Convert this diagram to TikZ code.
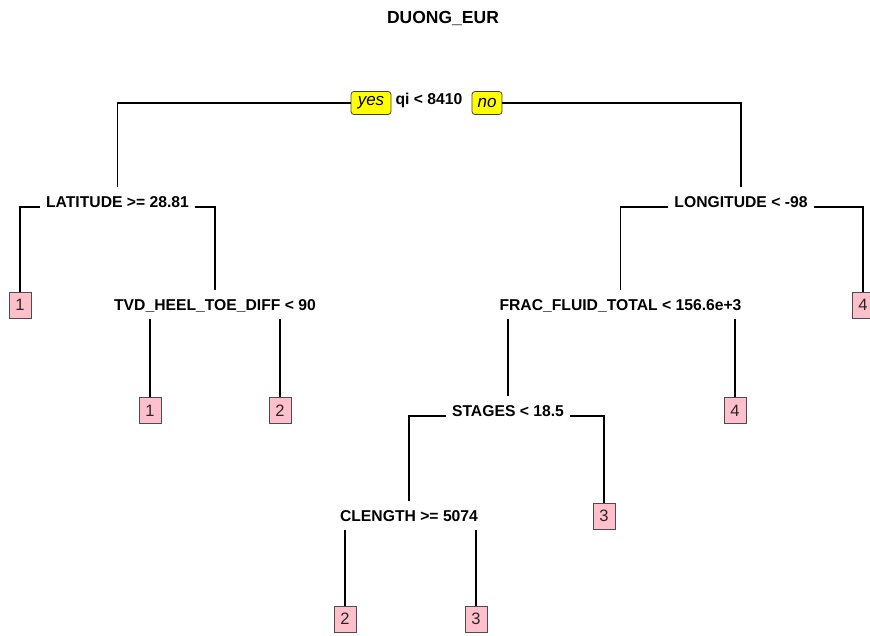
\documentclass[tikz,border=0pt]{standalone}
\usepackage{fontspec}
\setmainfont{Liberation Sans}
\definecolor{leafpink}{HTML}{FFC0CB}
\definecolor{lblyellow}{HTML}{FFFF00}
\begin{document}
\begin{tikzpicture}[x=1pt,y=-1pt,
  split/.style={font=\bfseries\fontsize{15.7}{18}\selectfont, inner xsep=6pt, inner ysep=9pt,
                text height=11pt, text depth=0pt, anchor=base},
  leaf/.style={draw=black!70, line width=0.8pt, fill=leafpink, minimum width=22pt, minimum height=26pt,
               inner sep=0pt, font=\fontsize{16.5}{18}\selectfont, text=black!85},
  lbl/.style={draw=black!75, line width=0.8pt, fill=lblyellow, rounded corners=3pt, minimum height=23pt,
              inner xsep=2pt, inner ysep=0pt, font=\itshape\fontsize{17}{18}\selectfont},
  edge/.style={line width=1.8pt, black}]
\useasboundingbox (0,0) rectangle (870,635);
\clip (0,0) rectangle (870,635);

\node[font=\bfseries\fontsize{17.5}{20}\selectfont] (title) at (443,18) {DUONG\_EUR};

% split nodes
\node[split] (root) at (429,104) {qi < 8410};
\node[lbl, minimum width=40pt] (yes) at (371,103) {yes};
\node[lbl, minimum width=30pt] (no) at (487,103) {no};
\node[split] (lat) at (117.5,207) {LATITUDE >= 28.81};
\node[split] (tvd) at (215,310) {TVD\_HEEL\_TOE\_DIFF < 90};
\node[split] (lon) at (741,207) {LONGITUDE < -98};
\node[split] (frac) at (620.5,310) {FRAC\_FLUID\_TOTAL < 156.6e+3};
\node[split] (stg) at (508,416) {STAGES < 18.5};
\node[split] (cln) at (409,521) {CLENGTH >= 5074};

% leaves
\node[leaf] (l1) at (20,305) {1};
\node[leaf] (l2) at (150,410.5) {1};
\node[leaf] (l3) at (280,410.5) {2};
\node[leaf] (l4) at (863,305) {4};
\node[leaf] (l5) at (735,410.5) {4};
\node[leaf] (l6) at (604,516) {3};
\node[leaf] (l7) at (345,619) {2};
\node[leaf] (l8) at (476,619) {3};

% edges
\draw[edge] (yes.west) -| (lat.north);
\draw[edge] (no.east) -| (lon.north);
\draw[edge] (lat.base west) -| (l1.north);
\draw[edge] (lat.base east) -| (tvd.north);
\draw[edge] (tvd.south -| l2.north) -- (l2.north);
\draw[edge] (tvd.south -| l3.north) -- (l3.north);
\draw[edge] (lon.base west) -| (frac.north);
\draw[edge] (lon.base east) -| (l4.north);
\draw[edge] (frac.south -| stg.north) -- (stg.north);
\draw[edge] (frac.south -| l5.north) -- (l5.north);
\draw[edge] (stg.base west) -| (cln.north);
\draw[edge] (stg.base east) -| (l6.north);
\draw[edge] (cln.south -| l7.north) -- (l7.north);
\draw[edge] (cln.south -| l8.north) -- (l8.north);
\end{tikzpicture}
\end{document}
